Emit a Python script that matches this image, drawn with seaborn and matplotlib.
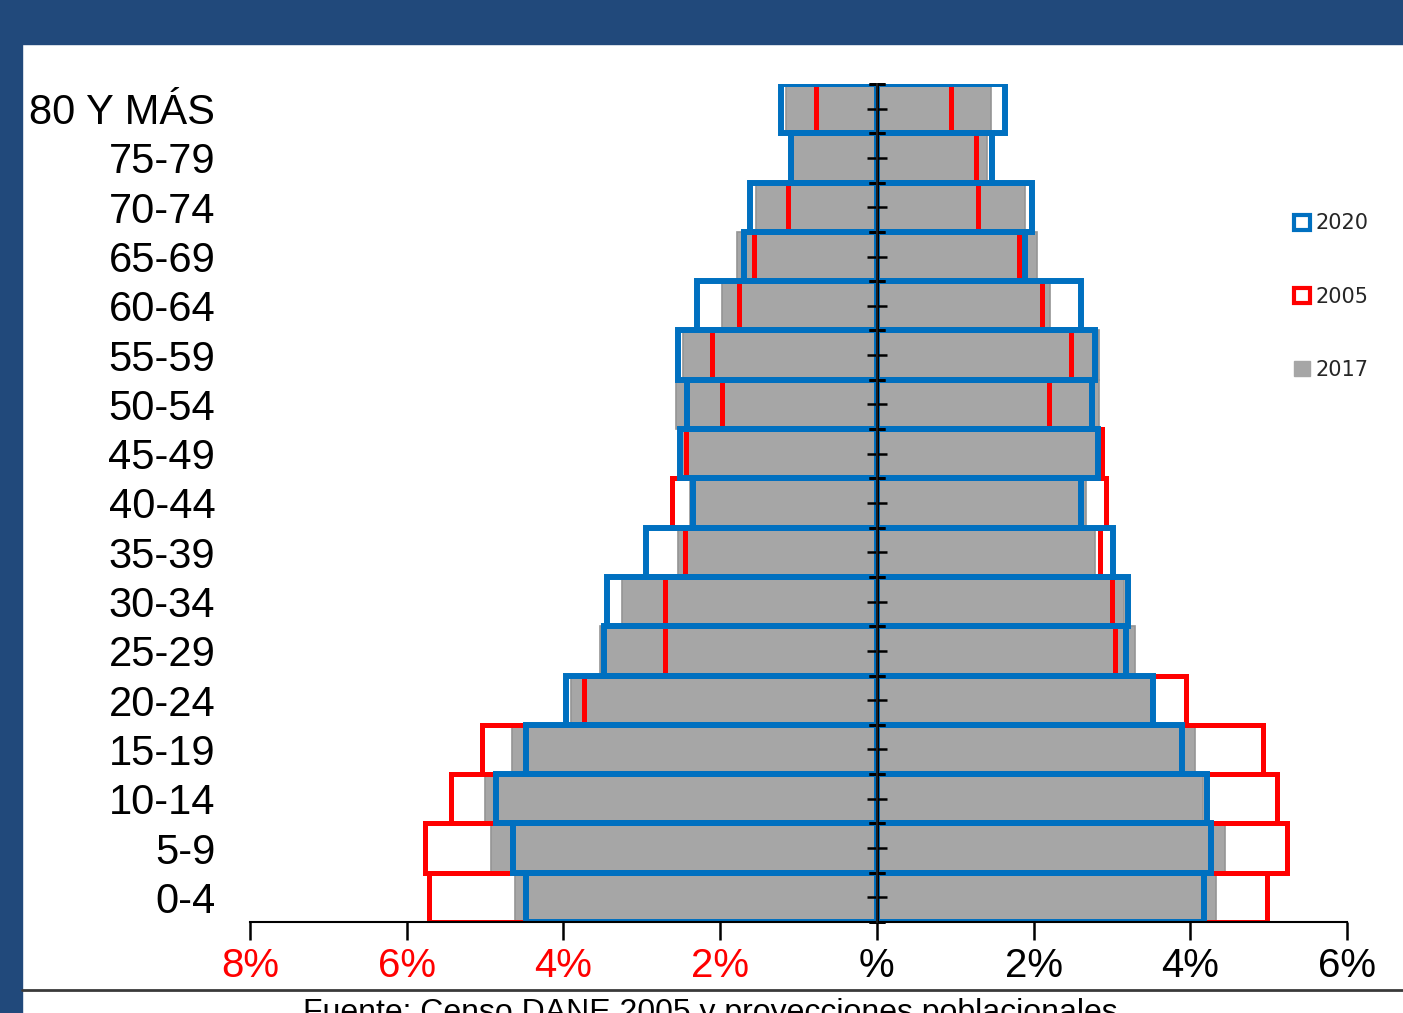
import numpy as np
import pandas as pd
import matplotlib
matplotlib.use("Agg")
import matplotlib.pyplot as plt
import seaborn as sns
from matplotlib.patches import Patch, Rectangle
from matplotlib.lines import Line2D

# grupos de edad, de arriba hacia abajo
grupos = ["80 Y MÁS", "75-79", "70-74", "65-69", "60-64", "55-59", "50-54", "45-49",
          "40-44", "35-39", "30-34", "25-29", "20-24", "15-19", "10-14", "5-9", "0-4"]

# porcentaje de la población (izquierda = hombres, derecha = mujeres)
hombres_2017 = [1.16, 1.09, 1.54, 1.79, 1.98, 2.48, 2.56, 2.50, 2.39, 2.54, 3.25, 3.53, 3.90, 4.66, 5.00, 4.92, 4.62]
mujeres_2017 = [1.46, 1.41, 1.89, 2.04, 2.21, 2.84, 2.84, 2.80, 2.67, 2.78, 3.16, 3.29, 3.50, 4.06, 4.16, 4.44, 4.33]
hombres_2005 = [0.78, 1.09, 1.13, 1.57, 1.76, 2.10, 1.97, 2.43, 2.61, 2.45, 2.70, 2.70, 3.74, 5.04, 5.43, 5.77, 5.71]
mujeres_2005 = [0.94, 1.26, 1.29, 1.81, 2.11, 2.48, 2.20, 2.87, 2.92, 2.85, 3.00, 3.04, 3.95, 4.93, 5.11, 5.24, 4.98]
hombres_2020 = [1.22, 1.09, 1.62, 1.70, 2.29, 2.54, 2.42, 2.51, 2.35, 2.94, 3.45, 3.48, 3.97, 4.48, 4.86, 4.64, 4.48]
mujeres_2020 = [1.63, 1.47, 1.98, 1.89, 2.60, 2.79, 2.75, 2.82, 2.60, 3.02, 3.21, 3.18, 3.52, 3.90, 4.21, 4.27, 4.17]

ticks_x = [-8, -6, -4, -2, 0, 2, 4, 6]
etiquetas_x = ["8%", "6%", "4%", "2%", "%", "2%", "4%", "6%"]

gris = "#A6A6A6"
rojo = "#FF0000"
azul = "#0070C0"
fondo = "#21497B"

sns.set_theme(style="white")
plt.rcParams["font.family"] = ["Liberation Sans", "DejaVu Sans"]

fig = plt.figure(figsize=(14.03, 10.13), dpi=100)
ax = fig.add_axes([250 / 1403, 1 - 922 / 1013, 1097 / 1403, 838 / 1013])

df = pd.DataFrame({
    "grupo": grupos,
    "h2017": -np.array(hombres_2017), "m2017": mujeres_2017,
    "h2005": -np.array(hombres_2005), "m2005": mujeres_2005,
    "h2020": -np.array(hombres_2020), "m2020": mujeres_2020,
})

# 2017: barras grises rellenas
for col in ["h2017", "m2017"]:
    sns.barplot(data=df, x=col, y="grupo", order=grupos, orient="y", color=gris,
                width=1.0, errorbar=None, saturation=1, edgecolor="#959595",
                linewidth=1.2, ax=ax)
# 2005: contorno rojo
for col in ["h2005", "m2005"]:
    sns.barplot(data=df, x=col, y="grupo", order=grupos, orient="y", color=rojo,
                width=1.0, errorbar=None, saturation=1, fill=False,
                linewidth=3.6, ax=ax)
# 2020: contorno azul
for col in ["h2020", "m2020"]:
    sns.barplot(data=df, x=col, y="grupo", order=grupos, orient="y", color=azul,
                width=1.0, errorbar=None, saturation=1, fill=False,
                linewidth=4.3, ax=ax)

ax.set_xlim(-8, 6)
ax.set_ylim(len(grupos) - 0.5, -0.5)
ax.set_xlabel("")
ax.set_ylabel("")

# eje central con marcas
ax.axvline(0, color="black", lw=2.2, zorder=6)
sec = ax.secondary_yaxis(8 / 14)
sec.set_zorder(10)
sec.set_yticks(np.arange(-0.5, len(grupos), 1.0))
sec.set_yticks(np.arange(0, len(grupos), 1.0), minor=True)
sec.tick_params(axis="y", which="major", direction="inout", left=True, length=12, width=2,
                labelleft=False, labelright=False, color="black")
sec.tick_params(axis="y", which="minor", direction="in", left=True, length=7, width=1.8,
                color="black")
sec.spines["left"].set_visible(False)
sec.set_yticklabels([])

for s in ["left", "right", "top"]:
    ax.spines[s].set_visible(False)
ax.spines["bottom"].set_color("black")
ax.spines["bottom"].set_linewidth(1.5)

ax.set_xticks(ticks_x)
ax.set_xticklabels(etiquetas_x, fontsize=29)
for lab, t in zip(ax.get_xticklabels(), ticks_x):
    lab.set_color(rojo if t < 0 else "black")
ax.tick_params(axis="x", bottom=True, direction="out", length=13, width=1.8,
               color="black", pad=5)
ax.tick_params(axis="y", left=False, length=0, pad=25, labelsize=30, labelcolor="black")

leyenda = [
    Patch(facecolor="white", edgecolor=azul, linewidth=3, label="2020"),
    Patch(facecolor="white", edgecolor=rojo, linewidth=3, label="2005"),
    Patch(facecolor=gris, edgecolor=gris, linewidth=1, label="2017"),
]
fig.legend(handles=leyenda, loc="upper left", bbox_to_anchor=(1284 / 1403, 1 - 203 / 1013),
           frameon=False, labelspacing=2.55, handlelength=0.75,
           handleheight=0.75, handletextpad=0.25, borderpad=0,
           prop={"family": "DejaVu Sans", "size": 15})

# marco azul y pie de página
fig.add_artist(Rectangle((0, 1 - 44 / 1013), 1, 44 / 1013, transform=fig.transFigure,
                         color=fondo, zorder=20))
fig.add_artist(Rectangle((0, 0), 22 / 1403, 1, transform=fig.transFigure,
                         color=fondo, zorder=20))
fig.add_artist(Line2D([22 / 1403, 1], [1 - 990 / 1013] * 2, transform=fig.transFigure,
                      color="#3a3a3a", lw=2, zorder=20))
fig.text(303 / 1403, 1 - 998 / 1013, "Fuente: Censo DANE 2005 y proyecciones poblacionales",
         fontsize=23, va="top", ha="left", color="black")

fig.savefig("out.png", dpi=100)
